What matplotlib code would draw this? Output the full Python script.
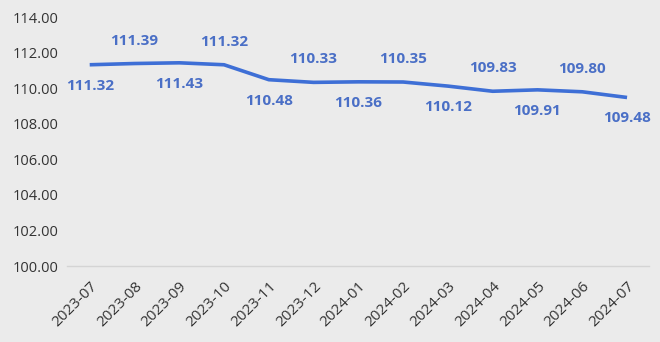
import matplotlib.pyplot as plt

months = ['2023-07', '2023-08', '2023-09', '2023-10', '2023-11', '2023-12',
          '2024-01', '2024-02', '2024-03', '2024-04', '2024-05', '2024-06', '2024-07']
values = [111.32, 111.39, 111.43, 111.32, 110.48, 110.33,
          110.36, 110.35, 110.12, 109.83, 109.91, 109.80, 109.48]

bg = '#ebebeb'
line_color = '#3e6fd6'
label_color = '#4a6fc6'

plt.rcParams['font.family'] = ['Open Sans', 'DejaVu Sans']

fig = plt.figure(figsize=(6.6, 3.42), dpi=100, facecolor=bg)
ax = fig.add_axes([0.102, 0.222, 0.882, 0.728], facecolor=bg)

x = list(range(len(months)))
ax.plot(x, values, color=line_color, linewidth=2.6, solid_capstyle='butt')

# labels alternate below / above the line
for i, v in enumerate(values):
    off = -15 if i % 2 == 0 else 16.5
    ax.annotate(f'{v:.2f}', (i, v), xytext=(0, off), textcoords='offset points',
                ha='center', va='center', fontsize=11, fontweight='bold',
                color=label_color)

ax.set_xlim(-0.5, len(months) - 0.5)
ax.set_ylim(100, 114)
ax.set_yticks(range(100, 115, 2))
ax.set_yticklabels([f'{t:.2f}' for t in range(100, 115, 2)], fontsize=10.5, color='#333333')
ax.set_xticks(x)
ax.set_xticklabels(months, rotation=45, ha='right', rotation_mode='anchor',
                   fontsize=11, color='#333333')
ax.tick_params(axis='y', length=0, pad=6)
ax.tick_params(axis='x', length=0, pad=9)

for s in ['top', 'right', 'left']:
    ax.spines[s].set_visible(False)
ax.spines['bottom'].set_color('#d4d4d4')
ax.spines['bottom'].set_linewidth(1)

fig.savefig('out.png', dpi=100, facecolor=bg)
